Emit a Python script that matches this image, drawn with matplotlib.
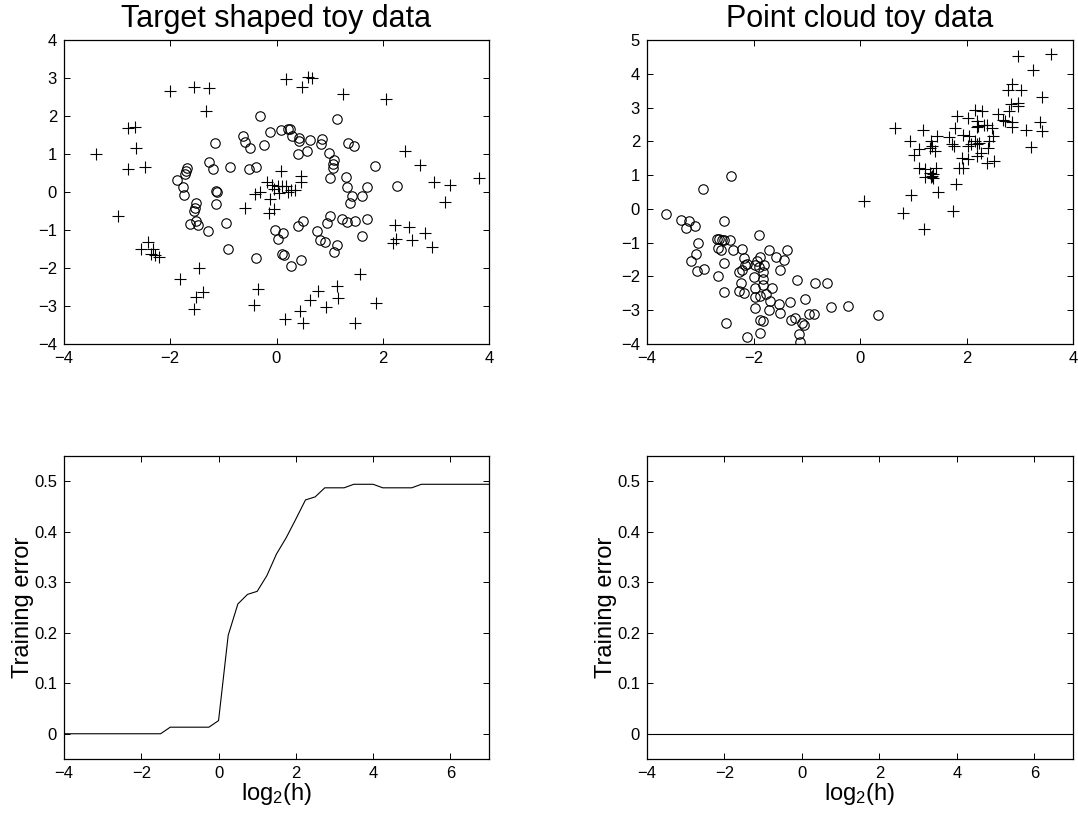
import matplotlib
matplotlib.use("Agg")
import matplotlib.pyplot as plt

plt.rcParams["font.family"] = ["Liberation Sans", "DejaVu Sans"]
plt.rcParams["mathtext.fontset"] = "custom"
plt.rcParams["mathtext.rm"] = "Liberation Sans"
plt.rcParams["mathtext.it"] = "Liberation Sans"

# target shaped toy data: inner disc (o) and outer ring (+)
target_o_x = [-0.31, -0.12, -1.16, -0.64, -0.60, -0.49, -0.23, -1.27, -1.20, -0.87,
              -0.51, -0.38, -1.69, -1.71, -1.73, -1.88, -1.76, -1.74, -1.14, -1.12,
              0.09, 0.21, 0.25, 0.29, 0.43, 0.42, 0.63, 0.86, 0.84, 1.14,
              1.34, 1.45, 0.40, 0.57, 0.98, 1.09, 1.06, 1.07, 1.86, 1.00,
              1.30, 1.33, 1.70, 2.27, 1.43, 1.61,
              -1.52, -1.53, -1.55, -1.14, -1.63, -1.52, -1.47, -1.29, -0.95, -0.91,
              -0.38, -0.02, 0.02,
              1.39, 1.01, 0.95, 1.23, 1.32, 1.48, 1.71, 1.61, 0.49, 0.41,
              0.13, 0.77, 0.82, 0.91, 1.13, 1.09, 0.11, 0.15, 0.47, 0.28]
target_o_y = [1.99, 1.58, 1.30, 1.48, 1.31, 1.17, 1.23, 0.79, 0.61, 0.67,
              0.60, 0.67, 0.63, 0.56, 0.48, 0.32, 0.12, -0.08, 0.02, -0.01,
              1.63, 1.65, 1.65, 1.48, 1.42, 1.35, 1.38, 1.39, 1.26, 1.93,
              1.30, 1.22, 1.00, 1.07, 1.02, 0.85, 0.74, 0.63, 0.69, 0.38,
              0.40, 0.12, 0.13, 0.17, -0.10, -0.11,
              -0.29, -0.42, -0.50, -0.32, -0.83, -0.77, -0.88, -1.02, -0.81, -1.51,
              -1.73, -0.99, -1.23,
              -0.29, -0.64, -0.81, -0.71, -0.80, -0.77, -0.71, -1.16, -0.77, -0.90,
              -1.09, -1.03, -1.27, -1.31, -1.40, -1.57, -1.62, -1.66, -1.80, -1.95]

target_p_x = [-3.39, -2.00, -1.55, -1.27, -1.32, -2.79, -2.67, -2.64, -2.80, -2.48,
              -0.17, -0.08, -0.04, -0.40, -0.31, -0.12,
              0.18, 0.60, 0.67, 0.48, 1.26, 2.07, 2.42, 2.71, 3.82, 2.96,
              3.26, 0.08, 0.46, 0.47, 0.02, 0.11, 0.18, 0.21, 0.27, 0.35, 0.05,
              -2.99, -2.42, -2.56, -2.32, -2.37, -2.28, -2.21, -1.45, -1.82, -1.38,
              -1.51, -1.55, -0.35, -0.42, -0.60, -0.15, -0.04,
              3.18, 2.23, 2.50, 2.79, 2.24, 2.20, 2.55, 2.92, 1.57, 1.14,
              0.79, 1.15, 0.63, 0.93, 0.45, 1.88, 0.16, 0.50, 1.47]
target_p_y = [1.00, 2.67, 2.77, 2.73, 2.14, 1.68, 1.71, 1.15, 0.61, 0.65,
              0.26, 0.19, 0.09, -0.04, -0.01, -0.18,
              2.97, 3.03, 3.01, 2.77, 2.58, 2.44, 1.08, 0.71, 0.38, 0.26,
              0.19, 0.56, 0.41, 0.26, 0.17, 0.15, 0.17, -0.01, 0.06, 0.04, -0.03,
              -0.62, -1.31, -1.50, -1.51, -1.62, -1.66, -1.71, -1.99, -2.30, -2.62,
              -2.76, -3.09, -2.56, -2.97, -0.41, -0.55, -0.46,
              -0.26, -0.88, -0.93, -1.09, -1.23, -1.34, -1.25, -1.44, -2.15, -2.48,
              -2.61, -2.78, -2.85, -3.02, -3.12, -2.91, -3.35, -3.46, -3.44]

# point cloud toy data: two elongated blobs
cloud_o_x = [-3.65, -3.37, -3.21, -3.26, -3.10, -3.05, -3.08, -3.18, -3.06, -2.93,
             -2.94, -2.42, -2.56, -2.69, -2.65, -2.60, -2.55, -2.45, -2.66, -2.61,
             -2.38, -2.55, -2.67, -2.56, -2.51, -2.21, -2.18, -2.21, -2.27, -2.16,
             -2.13, -2.23, -2.27, -2.17, -2.13, -1.90, -1.94, -1.98, -1.87, -1.80,
             -1.90, -2.00, -1.83, -1.82, -1.82, -1.98, -1.98, -1.88, -1.98, -1.76,
             -1.69, -1.71, -1.87, -1.83, -1.87, -1.70, -1.57, -1.43, -1.38, -1.51,
             -1.65, -1.52, -1.50, -1.31, -1.19, -1.29, -1.22, -1.09, -1.06, -1.15,
             -1.12, -1.04, -0.96, -0.86, -0.84, -0.62, -0.55, -0.23, 0.34]
cloud_o_y = [-0.14, -0.34, -0.37, -0.58, -0.51, -1.01, -1.33, -1.54, -1.84, -1.78,
             0.59, 0.98, -0.36, -0.90, -0.89, -0.91, -0.93, -0.93, -1.15, -1.21,
             -1.23, -1.59, -2.00, -2.45, -3.39, -1.19, -1.45, -1.82, -1.87, -1.67,
             -1.63, -2.20, -2.44, -2.50, -3.78, -0.76, -1.53, -1.67, -1.43, -1.66,
             -1.72, -2.02, -1.87, -2.07, -2.24, -2.34, -2.62, -2.57, -2.93, -2.52,
             -2.72, -2.99, -3.29, -3.31, -3.68, -1.21, -1.41, -1.51, -1.23, -1.80,
             -2.34, -2.83, -3.08, -2.77, -2.12, -3.28, -3.23, -3.39, -3.44, -3.71,
             -3.95, -2.67, -3.11, -3.11, -2.19, -2.20, -2.91, -2.88, -3.13]

cloud_p_x = [2.97, 2.85, 2.77, 3.02, 2.84, 2.97, 2.96, 2.80, 2.59, 2.69,
             2.72, 2.86, 2.86, 2.16, 2.30, 1.83, 2.02, 2.20, 2.22, 2.19,
             2.38, 2.47, 2.32, 1.78, 0.66, 1.19, 1.44, 1.68, 1.94, 2.05,
             2.50, 2.43, 2.40, 2.28, 2.16, 2.24, 2.19, 2.03, 2.09, 1.72,
             1.77, 0.93, 1.33, 1.35, 1.31, 1.41, 1.10, 1.01, 1.91, 2.03,
             2.19, 2.38, 2.52, 1.86, 1.94, 1.10, 1.23, 1.42, 1.31, 1.35,
             1.22, 1.38, 1.33, 1.37, 1.80, 0.95, 1.47, 0.08, 0.80, 1.75,
             1.21, 3.12, 3.22, 3.25, 3.38, 3.41, 3.41, 3.59]
cloud_p_y = [4.53, 3.69, 3.51, 3.52, 3.10, 3.13, 3.05, 2.90, 2.80, 2.63,
             2.60, 2.57, 2.41, 2.92, 2.90, 2.75, 2.70, 2.60, 2.45, 2.41,
             2.47, 2.38, 2.47, 2.39, 2.40, 2.35, 2.16, 2.13, 2.19, 2.16,
             2.16, 2.01, 1.81, 1.66, 2.01, 1.96, 1.91, 1.86, 1.91, 1.91,
             1.86, 2.01, 2.01, 1.86, 1.81, 1.71, 1.76, 1.61, 1.51, 1.48,
             1.56, 1.35, 1.41, 1.20, 1.22, 1.22, 1.17, 1.22, 1.07, 0.97,
             0.95, 1.02, 0.93, 0.90, 0.75, 0.42, 0.50, 0.23, -0.12, -0.07,
             -0.59, 2.34, 1.84, 4.12, 2.56, 3.31, 2.31, 4.60]

# training error against log2 of the kernel width
log2h_target = [-4.0, -1.5, -1.25, -0.25, 0.0, 0.25, 0.5, 0.75, 1.0, 1.25, 1.5, 1.75,
                2.0, 2.25, 2.5, 2.75, 3.25, 3.5, 4.0, 4.25, 5.0, 5.25, 7.0]
err_target = [0.0, 0.0, 0.013, 0.013, 0.026, 0.195, 0.257, 0.276, 0.282, 0.313, 0.356,
              0.388, 0.425, 0.463, 0.469, 0.487, 0.487, 0.494, 0.494, 0.487, 0.487,
              0.494, 0.494]
log2h_cloud = [-4.0, 7.0]
err_cloud = [0.0, 0.0]

W, H = 1078, 814
fig = plt.figure(figsize=(W / 100, H / 100), dpi=100)


def make_axes(left, top, right, bottom):
    return fig.add_axes([left / W, 1 - bottom / H, (right - left) / W, (bottom - top) / H])


def style(ax):
    ax.tick_params(direction="in", top=True, right=True, labelsize=12,
                   length=4, width=0.7, pad=5)
    for s in ax.spines.values():
        s.set_linewidth(0.9)


ax1 = make_axes(64, 40, 489, 344)
ax2 = make_axes(647, 40, 1073, 344)
ax3 = make_axes(64, 456, 489, 759)
ax4 = make_axes(647, 456, 1073, 759)

mk = dict(linestyle="none", color="black", mfc="none", mew=0.8)

ax1.plot(target_o_x, target_o_y, marker="o", ms=6.8, **mk)
ax1.plot(target_p_x, target_p_y, marker="+", ms=8, **mk)
ax1.set_xlim(-4, 4)
ax1.set_ylim(-4, 4)
ax1.set_xticks([-4, -2, 0, 2, 4])
ax1.set_yticks(range(-4, 5))
ax1.set_title("Target shaped toy data", fontsize=22, pad=9)

ax2.plot(cloud_o_x, cloud_o_y, marker="o", ms=6.8, **mk)
ax2.plot(cloud_p_x, cloud_p_y, marker="+", ms=8, **mk)
ax2.set_xlim(-4, 4)
ax2.set_ylim(-4, 5)
ax2.set_xticks([-4, -2, 0, 2, 4])
ax2.set_yticks(range(-4, 6))
ax2.set_title("Point cloud toy data", fontsize=22, pad=9)

for ax, xs, ys in [(ax3, log2h_target, err_target), (ax4, log2h_cloud, err_cloud)]:
    ax.plot(xs, ys, color="black", lw=0.8)
    ax.set_xlim(-4, 7)
    ax.set_ylim(-0.05, 0.55)
    ax.set_xticks([-4, -2, 0, 2, 4, 6])
    ax.set_yticks([0, 0.1, 0.2, 0.3, 0.4, 0.5])
    ax.set_yticklabels(["0", "0.1", "0.2", "0.3", "0.4", "0.5"])
    ax.set_xlabel("log$_2$(h)", fontsize=17, labelpad=0)
    ax.set_ylabel("Training error", fontsize=17, labelpad=0)

for ax in (ax1, ax2, ax3, ax4):
    style(ax)

fig.savefig("out.png", dpi=100)
